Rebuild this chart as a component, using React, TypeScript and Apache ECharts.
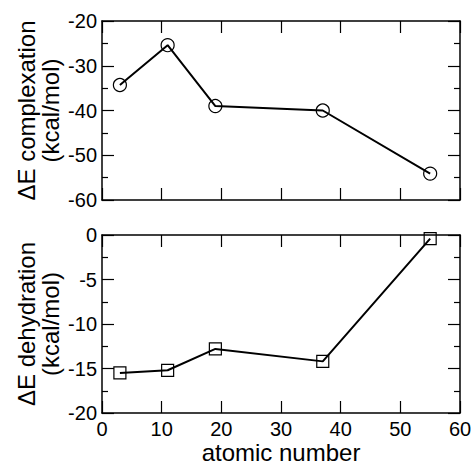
import React, { useEffect, useRef } from "react";
import * as echarts from "echarts";

const atomicNumbers = [3, 11, 19, 37, 55];
const complexation = [-34.3, -25.4, -39.0, -40.0, -54.1];
const dehydration = [-15.5, -15.2, -12.8, -14.2, -0.4];
const xTicks = [0, 10, 20, 30, 40, 50, 60];
const topYTitle = "ΔE complexation\n(kcal/mol)";
const bottomYTitle = "ΔE dehydration\n(kcal/mol)";
const xTitle = "atomic number";

const FONT = "'Liberation Sans', Arial, Helvetica, sans-serif";

export default function App() {
  const ref = useRef<HTMLDivElement>(null);
  useEffect(() => {
    document.body.style.margin = "0";
    if (!ref.current) return;
    const chart = echarts.init(ref.current, null, { renderer: "svg" });
    const axisLine = { show: true, onZero: false, lineStyle: { color: "#000", width: 1.5 } };
    const majorTick = { show: true, inside: true, length: 12, lineStyle: { color: "#000", width: 1.2 } };
    const minorTick = { show: true, splitNumber: 2, length: 6, lineStyle: { color: "#000", width: 1.2 } };
    const labelStyle = { color: "#000", fontFamily: FONT, fontSize: 20 };
    const xBase = (gridIndex: number, position: "top" | "bottom", showLabel: boolean) => ({
      type: "value" as const,
      gridIndex,
      position,
      min: xTicks[0],
      max: xTicks[xTicks.length - 1],
      interval: 10,
      axisLine,
      axisTick: majorTick,
      minorTick: { show: false },
      splitLine: { show: false },
      axisLabel: { show: showLabel, ...labelStyle, margin: 6 },
    });
    const yBase = (
      gridIndex: number,
      position: "left" | "right",
      min: number,
      max: number,
      interval: number,
      showLabel: boolean,
      name?: string
    ) => ({
      type: "value" as const,
      gridIndex,
      position,
      min,
      max,
      interval,
      axisLine,
      axisTick: majorTick,
      minorTick: { ...minorTick },
      splitLine: { show: false },
      minorSplitLine: { show: false },
      axisLabel: { show: showLabel, ...labelStyle, margin: 5 },
      name: name || "",
      nameLocation: "middle" as const,
      nameRotate: 90,
      nameGap: 40,
      nameMoveOverlap: false,
      nameTextStyle: { color: "#000", fontFamily: FONT, fontSize: 24, lineHeight: 24 },
    });
    const option = {
      animation: false,
      backgroundColor: "#fff",
      grid: [
        { left: 102, top: 21, width: 358, height: 179, outerBoundsMode: "none", containLabel: false },
        { left: 102, top: 235, width: 358, height: 178, outerBoundsMode: "none", containLabel: false },
      ],
      xAxis: [
        xBase(0, "bottom", false),
        xBase(0, "top", false),
        {
          ...xBase(1, "bottom", true),
          name: xTitle,
          nameLocation: "middle" as const,
          nameGap: 29,
          nameMoveOverlap: false,
          nameTextStyle: { color: "#000", fontFamily: FONT, fontSize: 24, lineHeight: 20, verticalAlign: "top" },
        },
        xBase(1, "top", false),
      ],
      yAxis: [
        yBase(0, "left", -60, -20, 10, true, topYTitle),
        yBase(0, "right", -60, -20, 10, false),
        yBase(1, "left", -20, 0, 5, true, bottomYTitle),
        yBase(1, "right", -20, 0, 5, false),
      ],
      series: [
        {
          type: "line",
          xAxisIndex: 0,
          yAxisIndex: 0,
          data: atomicNumbers.map((x, i) => [x, complexation[i]]),
          symbol: "circle",
          symbolSize: 13,
          lineStyle: { color: "#000", width: 2 },
          itemStyle: { color: "rgba(0,0,0,0)", borderColor: "#000", borderWidth: 1.2 },
        },
        {
          type: "line",
          xAxisIndex: 2,
          yAxisIndex: 2,
          data: atomicNumbers.map((x, i) => [x, dehydration[i]]),
          symbol: "rect",
          symbolSize: 12,
          lineStyle: { color: "#000", width: 2 },
          itemStyle: { color: "rgba(0,0,0,0)", borderColor: "#000", borderWidth: 1.2 },
        },
      ],
    };
    chart.setOption(option as any);
    return () => chart.dispose();
  }, []);
  return <div ref={ref} style={{ width: 471, height: 463 }} />;
}
